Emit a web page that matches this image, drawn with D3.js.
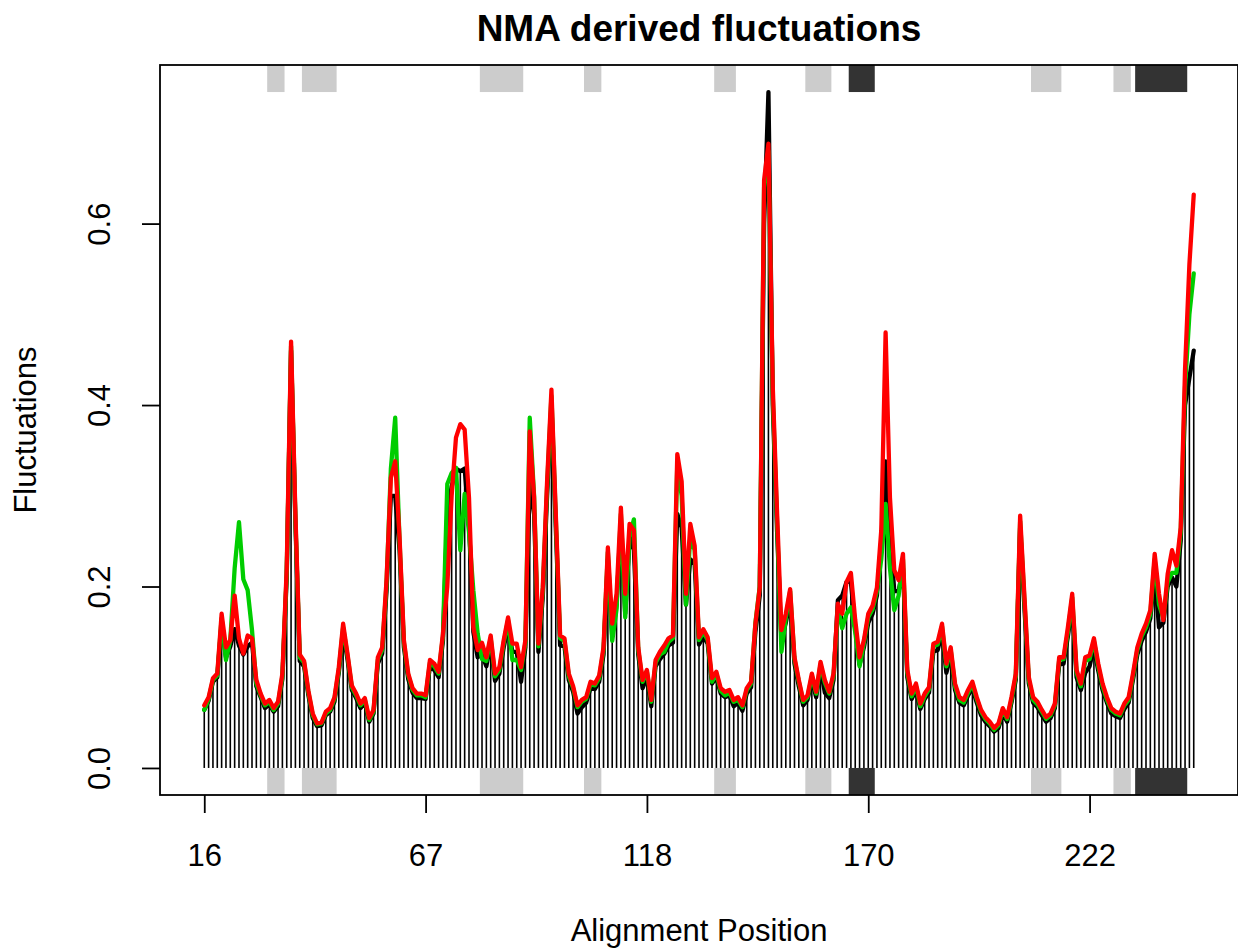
<!DOCTYPE html>
<html>
<head>
<meta charset="utf-8">
<script src="https://cdn.jsdelivr.net/npm/d3@7"></script>
<style>
body { margin: 0; background: #fff; }
text { font-family: "Liberation Sans", Arial, sans-serif; }
</style>
</head>
<body>
<svg width="1238" height="951"></svg>
<script>
// fluctuation values per alignment index (1..229)
const blackFluct = [
  .064,.074,.095,.100,.160,.122,.134,.153,.135,.125,
  .134,.138,.090,.078,.066,.070,.062,.068,.098,.210,
  .460,.270,.118,.112,.080,.055,.046,.047,.058,.062,
  .073,.105,.150,.120,.086,.077,.066,.072,.051,.060,
  .115,.126,.195,.300,.300,.240,.133,.098,.083,.077,
  .077,.076,.112,.108,.100,.140,.280,.310,.330,.327,
  .330,.270,.150,.122,.125,.112,.138,.096,.104,.133,
  .156,.128,.128,.095,.133,.316,.280,.128,.188,.300,
  .400,.265,.135,.134,.097,.084,.060,.067,.072,.088,
  .087,.095,.125,.230,.145,.180,.270,.170,.255,.240,
  .125,.088,.100,.068,.112,.120,.126,.135,.138,.280,
  .265,.180,.230,.225,.136,.145,.137,.093,.100,.082,
  .078,.080,.068,.072,.063,.082,.089,.150,.190,.600,
  .745,.400,.260,.140,.160,.185,.115,.090,.069,.075,
  .097,.078,.110,.083,.077,.097,.185,.190,.205,.205,
  .155,.114,.133,.160,.170,.190,.250,.338,.260,.195,
  .195,.220,.100,.076,.086,.065,.076,.083,.128,.130,
  .150,.105,.124,.086,.072,.069,.080,.088,.072,.058,
  .051,.046,.040,.044,.060,.051,.072,.097,.265,.175,
  .093,.072,.067,.058,.051,.055,.066,.114,.115,.145,
  .180,.100,.086,.105,.112,.133,.107,.086,.072,.060,
  .057,.055,.065,.072,.097,.125,.140,.150,.165,.215,
  .155,.160,.200,.210,.200,.250,.400,.430,.460
];

const greenFluct = [
  .064,.076,.097,.102,.165,.119,.141,.220,.271,.208,
  .196,.152,.093,.080,.069,.073,.064,.071,.101,.215,
  .465,.275,.122,.116,.083,.058,.048,.049,.060,.064,
  .076,.108,.155,.124,.089,.080,.069,.075,.053,.062,
  .119,.130,.203,.330,.386,.250,.138,.102,.086,.080,
  .080,.078,.116,.112,.104,.145,.313,.325,.331,.240,
  .302,.260,.196,.148,.120,.118,.143,.101,.108,.138,
  .163,.119,.119,.108,.138,.386,.300,.134,.195,.310,
  .410,.275,.143,.140,.101,.088,.067,.073,.076,.092,
  .091,.099,.130,.238,.140,.175,.280,.166,.255,.274,
  .130,.095,.106,.073,.116,.125,.128,.139,.143,.335,
  .300,.180,.255,.240,.141,.150,.141,.095,.104,.085,
  .080,.083,.073,.075,.067,.086,.093,.160,.200,.640,
  .680,.410,.270,.128,.165,.195,.120,.095,.073,.078,
  .101,.082,.114,.094,.082,.101,.176,.154,.170,.177,
  .150,.112,.138,.166,.175,.195,.230,.291,.220,.174,
  .190,.230,.105,.079,.090,.068,.079,.087,.134,.136,
  .156,.112,.130,.090,.075,.072,.083,.092,.076,.062,
  .054,.049,.042,.047,.064,.054,.075,.101,.272,.183,
  .097,.075,.070,.062,.054,.058,.069,.119,.120,.150,
  .188,.105,.090,.118,.120,.140,.112,.090,.075,.064,
  .060,.058,.069,.075,.101,.130,.145,.155,.170,.230,
  .180,.165,.205,.215,.215,.260,.420,.500,.545
];

const redFluct = [
  .069,.078,.099,.104,.170,.133,.141,.190,.143,.126,
  .146,.143,.097,.082,.071,.075,.066,.073,.104,.220,
  .470,.280,.125,.118,.085,.060,.049,.050,.062,.066,
  .078,.111,.159,.126,.091,.082,.071,.077,.055,.064,
  .122,.133,.207,.320,.338,.254,.141,.104,.088,.082,
  .082,.080,.119,.115,.106,.148,.200,.300,.364,.379,
  .373,.298,.155,.130,.138,.122,.146,.104,.111,.141,
  .166,.137,.137,.111,.141,.371,.298,.137,.199,.316,
  .417,.280,.146,.143,.104,.090,.069,.075,.078,.095,
  .093,.102,.133,.243,.159,.192,.287,.192,.269,.262,
  .133,.097,.108,.075,.119,.128,.135,.143,.146,.346,
  .316,.192,.269,.245,.144,.153,.144,.099,.106,.088,
  .084,.086,.075,.078,.069,.088,.095,.159,.199,.648,
  .688,.420,.280,.152,.170,.197,.122,.097,.075,.080,
  .104,.084,.117,.097,.084,.104,.181,.170,.205,.215,
  .163,.122,.141,.170,.179,.199,.262,.480,.298,.218,
  .207,.236,.108,.082,.093,.071,.082,.089,.137,.139,
  .159,.115,.133,.093,.078,.075,.086,.095,.078,.064,
  .056,.051,.044,.049,.066,.056,.078,.104,.278,.188,
  .100,.078,.073,.064,.056,.060,.071,.122,.122,.155,
  .192,.108,.093,.122,.124,.143,.115,.093,.078,.066,
  .062,.060,.071,.078,.104,.133,.148,.159,.174,.236,
  .192,.163,.214,.240,.223,.265,.440,.555,.632
];

// x axis ticks: alignment index -> alignment position label
const tickIndex = [1, 52, 103, 154, 205];
const tickLabels = ["16", "67", "118", "170", "222"];
const yTicks = [0, 0.2, 0.4, 0.6];

// secondary structure (alignment index ranges), H = helix, E = strand
const sseStart = [16, 24, 65, 89, 119, 140, 150, 192, 211, 216];
const sseEnd   = [19, 31, 74, 92, 123, 145, 155, 198, 214, 227];
const sseType  = ["H", "H", "H", "H", "H", "H", "E", "H", "H", "E"];

const svg = d3.select('svg');
const plotLeft = 160, plotRight = 1238, plotTop = 65, plotBottom = 795;

const n = blackFluct.length;
const xPad = (n + 1) * 0.04;
const x = d3.scaleLinear().domain([-xPad, n + 1 + xPad]).range([plotLeft, plotRight]);

const yMax = d3.max([...blackFluct, ...greenFluct, ...redFluct]);
const yPad = yMax * 0.04;
const y = d3.scaleLinear().domain([-yPad, yMax + yPad]).range([plotBottom, plotTop]);

const idx = d3.range(1, n + 1);

// secondary structure blocks, top and bottom margins
sseStart.forEach((s, k) => {
    const fill = sseType[k] === "E" ? '#333333' : '#cccccc';
    const x0 = x(s - 0.5), x1 = x(sseEnd[k] + 0.5);
    svg.append('rect')
        .attr('x', x0).attr('y', y(yMax + yPad))
        .attr('width', x1 - x0).attr('height', y(yMax) - y(yMax + yPad))
        .attr('fill', fill);
    svg.append('rect')
        .attr('x', x0).attr('y', y(0))
        .attr('width', x1 - x0).attr('height', y(-yPad) - y(0))
        .attr('fill', fill);
});

// histogram-style bars
svg.append('g').selectAll('line')
    .data(idx)
    .join('line')
    .attr('x1', d => x(d)).attr('x2', d => x(d))
    .attr('y1', y(0)).attr('y2', d => y(blackFluct[d - 1]))
    .attr('stroke', 'black')
    .attr('stroke-width', 1.6);

// fluctuation lines
const line = vals => d3.line()
    .x(d => x(d))
    .y(d => y(vals[d - 1]))(idx);

[[blackFluct, 'black'], [greenFluct, '#00cd00'], [redFluct, '#ff0000']].forEach(([vals, col]) => {
    svg.append('path')
        .attr('d', line(vals))
        .attr('fill', 'none')
        .attr('stroke', col)
        .attr('stroke-width', 4.3)
        .attr('stroke-linejoin', 'round')
        .attr('stroke-linecap', 'round');
});

// plot box
svg.append('rect')
    .attr('x', plotLeft).attr('y', plotTop)
    .attr('width', plotRight - plotLeft).attr('height', plotBottom - plotTop)
    .attr('fill', 'none')
    .attr('stroke', 'black')
    .attr('stroke-width', 1.8);

// x axis
const xAxis = d3.axisBottom(x)
    .tickValues(tickIndex)
    .tickFormat((d, i) => tickLabels[i])
    .tickSize(18)
    .tickPadding(31);
const gx = svg.append('g')
    .attr('transform', `translate(0,${plotBottom})`)
    .call(xAxis);
gx.select('.domain').remove();
gx.selectAll('line').attr('stroke-width', 1.8);
gx.selectAll('text')
    .attr('font-size', 31)
    .attr('font-family', '"Liberation Sans", Arial, sans-serif')
    .attr('fill', 'black');

// y axis
const yAxis = d3.axisLeft(y)
    .tickValues(yTicks)
    .tickFormat(d3.format('.1f'))
    .tickSize(18);
const gy = svg.append('g')
    .attr('transform', `translate(${plotLeft},0)`)
    .call(yAxis);
gy.select('.domain').remove();
gy.selectAll('line').attr('stroke-width', 1.8);
gy.selectAll('text')
    .attr('transform', 'rotate(-90)')
    .attr('x', 0)
    .attr('y', -50)
    .attr('dy', 0)
    .attr('text-anchor', 'middle')
    .attr('font-size', 31)
    .attr('font-family', '"Liberation Sans", Arial, sans-serif')
    .attr('fill', 'black');

// title and axis labels
svg.append('text')
    .attr('x', (plotLeft + plotRight) / 2).attr('y', 41)
    .attr('text-anchor', 'middle')
    .attr('font-size', 37)
    .attr('font-weight', 'bold')
    .text('NMA derived fluctuations');

svg.append('text')
    .attr('x', (plotLeft + plotRight) / 2).attr('y', 941)
    .attr('text-anchor', 'middle')
    .attr('font-size', 31)
    .text('Alignment Position');

svg.append('text')
    .attr('transform', `translate(36,${(plotTop + plotBottom) / 2}) rotate(-90)`)
    .attr('text-anchor', 'middle')
    .attr('font-size', 31)
    .text('Fluctuations');
</script>
</body>
</html>
